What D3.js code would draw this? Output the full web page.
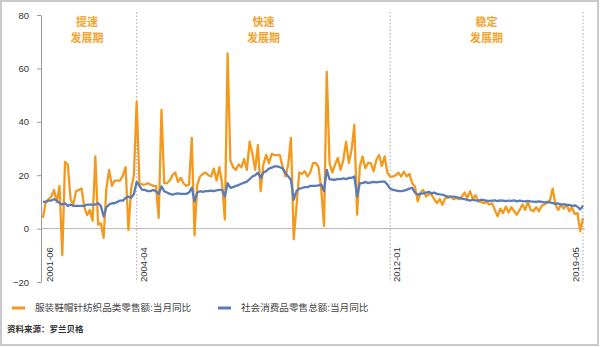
<!DOCTYPE html>
<html>
<head>
<meta charset="utf-8">
<script src="https://cdn.jsdelivr.net/npm/d3@7"></script>
<style>
  body { margin: 0; background: #fff; }
  svg text { font-family: "Liberation Sans", Arial, "Noto Sans CJK SC", sans-serif; }
  .cjk { font-family: "Noto Sans CJK SC", sans-serif; }
  .y-axis path, .y-axis line { stroke: #9a9a9a; }
  .y-axis text { fill: #333; font-size: 9.5px; }
</style>
</head>
<body>
<svg width="600" height="347"></svg>
<script>
// 服装鞋帽针纺织品类零售额:当月同比 (%)
var apparel = [
  4, 10, 11, 12, 14.5, 10, 16, -10, 25, 24,
  11, 9, 14, 14.5, 15, 8, 5, 7, 3, 27,
  1.5, 2, -3.5, 15, 22, 16, 18, 18, 18, 20,
  23, -0.5, 15, 20, 47.5, 17, 16.5, 16.5, 17, 16.5,
  16, 16, 4, 44.5, 17, 17, 18, 20, 21, 17.5,
  19, 17, 16, 16.5, 34, -2.5, 16.5, 19.5, 20.5, 21,
  20, 19.5, 22.5, 18, 23, 17, 3.4, 65.6, 25.5, 23,
  22, 24, 23, 26, 22, 32.6, 28, 22, 31.3, 14,
  24, 27.6, 24.5, 28, 27.5, 27.5, 27.5, 23, 19.5, 24,
  34, -4, 8.3, 21, 20.5, 21.5, 19.5, 21, 24.5, 24.6,
  23, 14.5, 0.9, 58.7, 24.6, 21, 24, 26.5, 22, 25.7,
  32.6, 24.6, 29.5, 38.8, 5.2, 23.3, 27, 22.6, 24.6, 24.5,
  21.4, 25.7, 27.6, 23.5, 27, 21, 19.5, 19.5, 20, 20.9,
  19.5, 21.4, 19.5, 20.5, 17, 15.8, 10.2, 13.4, 14.5, 12,
  13, 12.7, 11, 9.6, 11, 8.9, 11.5, 11.5, 12, 11,
  11.5, 11, 12, 13.5, 11.5, 14, 11, 12.5, 10.2, 10,
  9.5, 10, 9, 9.5, 7, 4.6, 7.5, 5.8, 8.3, 6,
  8, 6.5, 5.2, 7, 9, 7, 10, 7, 6.5, 8,
  6.5, 8.5, 9, 10, 10.5, 15, 9, 7, 9, 7.5,
  9, 6.5, 8, 5.5, 5.8, -1, 4
];

// 社会消费品零售总额:当月同比 (%)
var retail = [
  10, 10, 10.5, 10.5, 11, 10.5, 9.5, 9, 9.5, 8.5,
  9, 8.5, 8.5, 8.5, 8.5, 8.5, 9, 9, 9, 9,
  9.5, 8.5, 4.5, 8, 9, 9.5, 9.5, 10, 10.5, 10.5,
  11.5, 12, 11.5, 13, 17.5, 16, 14.5, 14.5, 14, 14,
  14.5, 14, 13, 15.8, 14, 13.5, 13, 12.7, 13, 13.2,
  13, 13, 13, 13.5, 15.3, 10.2, 13.5, 14, 13.8, 14,
  14, 14.2, 14, 14.3, 14.5, 14.5, 12, 17, 15.3, 15.5,
  16, 16.3, 16.8, 17.2, 17.6, 18.5, 19.5, 20, 20.9, 19,
  21, 21.5, 22.5, 22.8, 23.3, 23.3, 23, 22.5, 21, 19.5,
  18.3, 10.8, 14, 15, 15.2, 15.5, 15.5, 16, 16, 16,
  16.2, 16.5, 14, 22, 18.5, 18.3, 18.3, 18.5, 18.5, 18.8,
  18.5, 19, 19, 19.5, 12, 17, 17, 17.5, 17, 17.3,
  17.5, 17.3, 17.5, 17.6, 17.6, 16.5, 15, 14.5, 14.3, 14,
  14, 14.2, 14.5, 15, 15.3, 13.5, 12.7, 13, 13.2, 13.5,
  13.8, 13.2, 13.5, 13, 12.8, 12.7, 12.3, 12, 12, 12,
  11.8, 11.5, 11.2, 11, 10.8, 10.5, 10.8, 10.6, 10.5, 10.8,
  10.7, 10.5, 10.4, 10.5, 10.6, 10.3, 10.6, 10.5, 10.3, 10.5,
  10.4, 10.6, 10.2, 10.5, 10.3, 10.2, 10.4, 10.2, 10.1, 10,
  10.2, 10, 9.8, 9.9, 9.8, 9.5, 9.3, 9.4, 9, 9.2,
  8.8, 8.9, 8.5, 8.7, 8.2, 7.2, 8.6
];

var tickIdx = [0, 34, 126, 196];
var tickLabels = ["2001-06", "2004-04", "2012-01", "2019-05"];
var yTicks = [-20, 0, 20, 40, 60, 80];
var phaseIdx = [16, 80, 161];
var phaseTop = ["提速", "快速", "稳定"];
var phaseBottom = ["发展期", "发展期", "发展期"];
var seriesNames = ["服装鞋帽针纺织品类零售额:当月同比", "社会消费品零售总额:当月同比"];
var seriesColors = ["#f39a1e", "#5b7bb6"];
var source = "资料来源：罗兰贝格";

var svg = d3.select("svg"),
    width = +svg.attr("width"),
    height = +svg.attr("height");

// outer frame
svg.append("rect")
  .attr("x", 1).attr("y", 1)
  .attr("width", width - 3).attr("height", height - 3)
  .attr("fill", "#fff")
  .attr("stroke", "#c9c9c9")
  .attr("stroke-width", 2);

var x = d3.scaleLinear()
    .domain([0, apparel.length - 1])
    .range([43, 583]);

var y = d3.scaleLinear()
    .domain([-20, 80])
    .range([282, 15]);

// y axis
svg.append("g")
  .attr("class", "y-axis")
  .attr("transform", "translate(41,0)")
  .call(d3.axisLeft(y).tickValues(yTicks).tickSize(4).tickSizeOuter(0).tickPadding(8));

// zero line
svg.append("line")
  .attr("x1", 41).attr("x2", 585)
  .attr("y1", y(0)).attr("y2", y(0))
  .attr("stroke", "#b8b8b8")
  .attr("stroke-width", 1);

// phase separators
svg.selectAll(".sep")
  .data(tickIdx.slice(1))
  .enter().append("line")
    .attr("class", "sep")
    .attr("x1", function(d) { return x(d); })
    .attr("x2", function(d) { return x(d); })
    .attr("y1", 12)
    .attr("y2", y(-20))
    .attr("stroke", "#a8a8a8")
    .attr("stroke-width", 1)
    .attr("stroke-dasharray", "1.5,2");

// x labels (rotated)
svg.selectAll(".xlab")
  .data(tickIdx)
  .enter().append("text")
    .attr("class", "xlab")
    .attr("transform", function(d, i) {
      var dx = i === tickIdx.length - 1 ? -4 : 10;
      return "translate(" + (x(d) + dx) + "," + y(-20) + ")rotate(-90)";
    })
    .attr("font-size", "9.5px")
    .attr("fill", "#333")
    .text(function(d, i) { return tickLabels[i]; });

// lines
var line = d3.line()
    .x(function(d, i) { return x(i); })
    .y(function(d) { return y(d); });

[apparel, retail].forEach(function(s, k) {
  svg.append("path")
    .datum(s)
    .attr("fill", "none")
    .attr("stroke", seriesColors[k])
    .attr("stroke-width", 2.3)
    .attr("stroke-linejoin", "round")
    .attr("d", line);
});

// phase labels, two rows
[[phaseTop, 26], [phaseBottom, 42]].forEach(function(row) {
  svg.selectAll(null)
    .data(phaseIdx)
    .enter().append("text")
      .attr("class", "cjk")
      .attr("x", function(d) { return x(d); })
      .attr("y", row[1])
      .attr("text-anchor", "middle")
      .attr("font-size", "11px")
      .attr("font-weight", "bold")
      .attr("fill", "#f3a22c")
      .text(function(d, i) { return row[0][i]; });
});

// legend
var legX = [12, 218];
var leg = svg.selectAll(".leg")
  .data(seriesNames)
  .enter().append("g")
    .attr("class", "leg")
    .attr("transform", function(d, i) { return "translate(" + legX[i] + ",308)"; });
leg.append("line")
  .attr("x1", 0).attr("x2", 13)
  .attr("stroke", function(d, i) { return seriesColors[i]; })
  .attr("stroke-width", 3);
leg.append("text")
  .attr("class", "cjk")
  .attr("x", 23)
  .attr("dy", "0.35em")
  .attr("font-size", "9.6px")
  .attr("fill", "#444")
  .text(function(d) { return d; });

// source
svg.append("text")
  .attr("class", "cjk")
  .attr("x", 7).attr("y", 332)
  .attr("font-size", "8.5px")
  .attr("font-weight", "bold")
  .attr("fill", "#333")
  .text(source);
</script>
</body>
</html>
